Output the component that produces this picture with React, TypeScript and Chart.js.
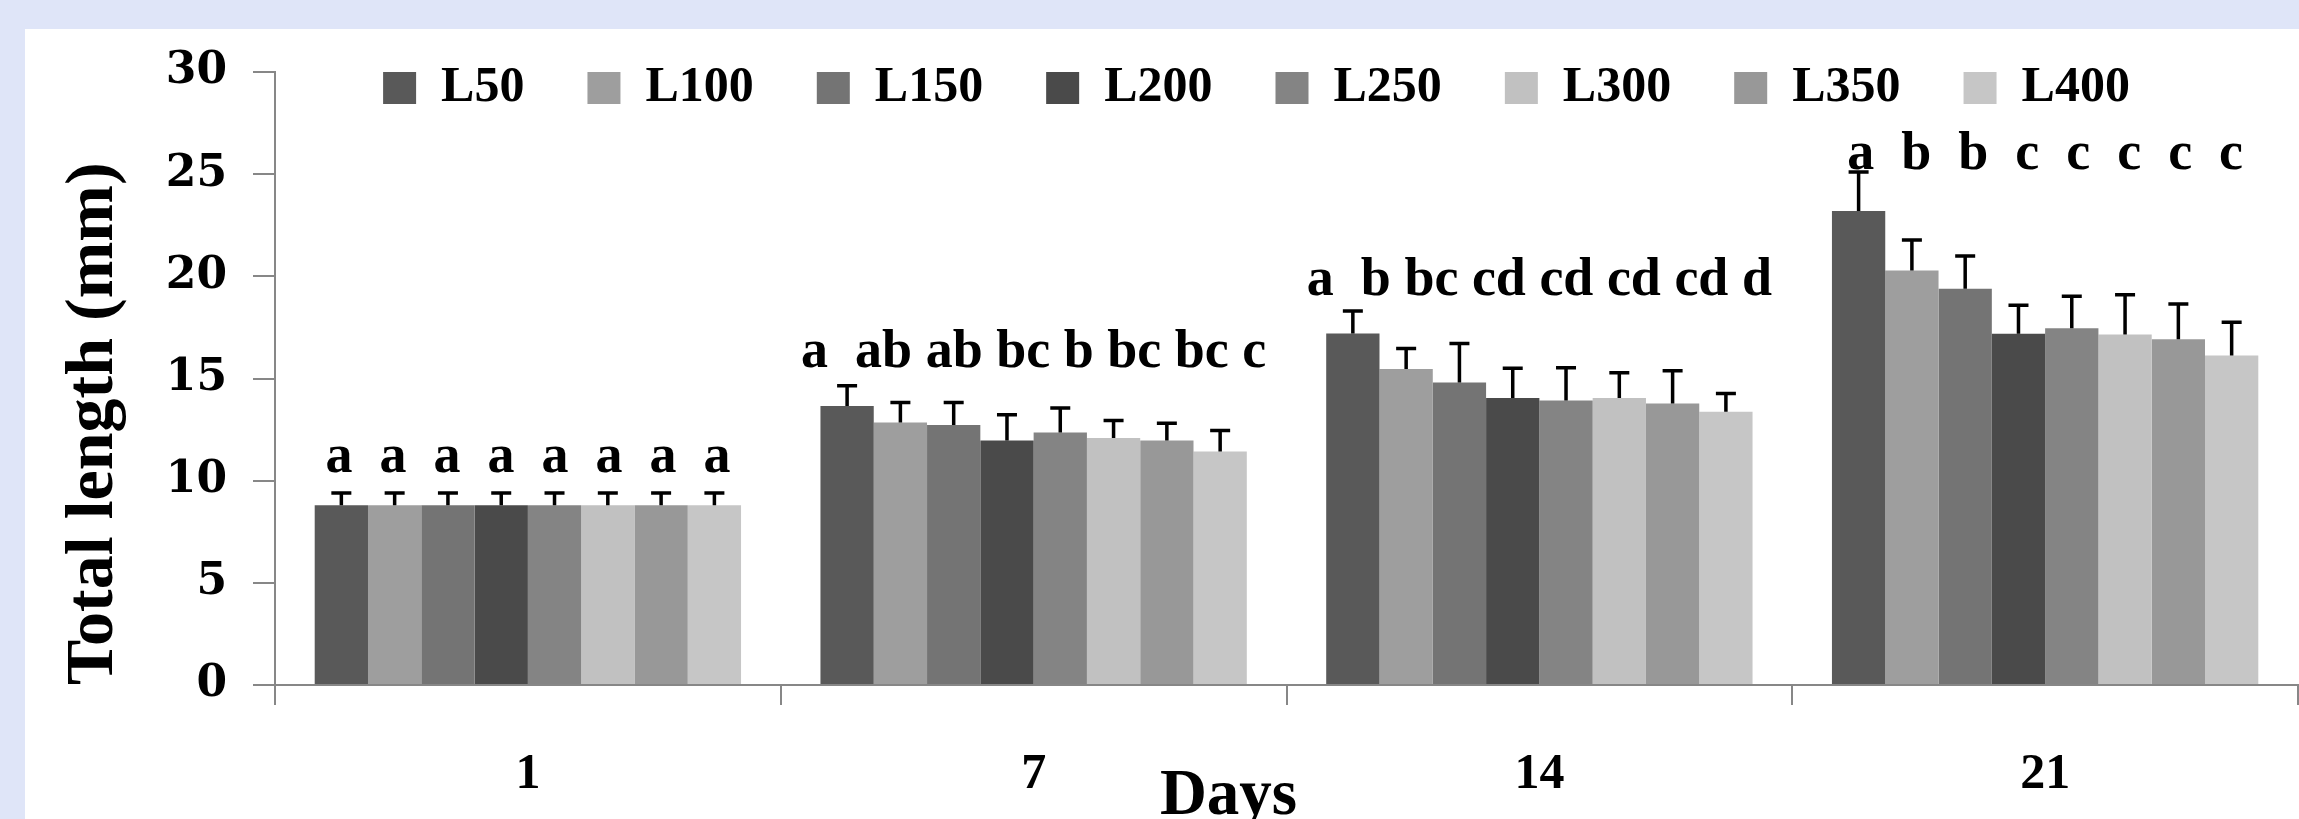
import React, { useEffect, useRef } from 'react';
import { Chart, registerables } from 'chart.js';

Chart.register(...registerables);

// ---- data ----
const DAYS = ['1', '7', '14', '21'];
const SERIES = ['L50', 'L100', 'L150', 'L200', 'L250', 'L300', 'L350', 'L400'];

const L50 = [8.8, 13.66, 17.2, 23.2];
const L100 = [8.8, 12.85, 15.47, 20.28];
const L150 = [8.8, 12.73, 14.81, 19.39];
const L200 = [8.8, 11.97, 14.05, 17.19];
const L250 = [8.8, 12.36, 13.92, 17.46];
const L300 = [8.8, 12.09, 14.05, 17.15];
const L350 = [8.8, 11.97, 13.78, 16.92];
const L400 = [8.8, 11.43, 13.37, 16.13];

const L50_SD = [0.6, 0.98, 1.1, 1.9];
const L100_SD = [0.6, 0.98, 1.0, 1.5];
const L150_SD = [0.6, 1.1, 1.9, 1.6];
const L200_SD = [0.6, 1.25, 1.45, 1.4];
const L250_SD = [0.6, 1.2, 1.6, 1.57];
const L300_SD = [0.6, 0.86, 1.23, 1.95];
const L350_SD = [0.6, 0.84, 1.6, 1.73];
const L400_SD = [0.6, 1.02, 0.9, 1.62];

const VALUES = [L50, L100, L150, L200, L250, L300, L350, L400];
const ERRORS = [L50_SD, L100_SD, L150_SD, L200_SD, L250_SD, L300_SD, L350_SD, L400_SD];

const COLORS = ['#595959', '#9e9e9e', '#747474', '#4a4a4a', '#848484', '#c1c1c1', '#989898', '#c6c6c6'];

// significance letters, one text row per day (as typed in the original)
const LETTER_ROWS = [
  'a  a  a  a  a  a  a  a',
  'a  ab ab bc b bc bc c',
  'a  b bc cd cd cd cd d',
  'a  b  b  c  c  c  c  c',
];
const LETTER_LEVELS = [10.4, 15.55, 19.1, 25.27];

const Y_MIN = 0;
const Y_MAX = 30;
const Y_STEP = 5;

const SERIF = "'Liberation Serif', 'Times New Roman', serif";
const DJV = "'DejaVu Serif', serif";
const AXIS = '#878787';

const LEGEND_BAND = 72;
const LEGEND_SHIFT = 30;
const DAYS_SHIFT = -58;

function patchLegend(chart: any) {
  const lg = chart.legend;
  if (!lg || lg.__patched) return;
  const orig = lg.fit;
  lg.fit = function () {
    orig.call(this);
    this.height = LEGEND_BAND;
    if (this.lineWidths) this.lineWidths = this.lineWidths.map((w: number) => w + LEGEND_SHIFT * 2);
  };
  lg.__patched = true;
}

const legendOverlay = {
  id: 'legendOverlay',
  beforeInit(chart: any) { patchLegend(chart); },
  beforeUpdate(chart: any) { patchLegend(chart); },
  afterLayout(chart: any) {
    const lg = chart.legend;
    if (lg) {
      lg.bottom = lg.top + 200;
      lg.height = 200;
    }
  },
};

const annotations = {
  id: 'annotations',
  afterDatasetsDraw(chart: any) {
    const ctx = chart.ctx;
    const ys = chart.scales.y;
    const xs = chart.scales.x;
    ctx.save();
    ctx.strokeStyle = '#000';
    ctx.lineWidth = 3.5;
    const cap = 20;
    VALUES.forEach((vals, i) => {
      const meta = chart.getDatasetMeta(i);
      meta.data.forEach((bar: any, j: number) => {
        const v = vals[j];
        const e = ERRORS[i][j];
        const yb = ys.getPixelForValue(v);
        const yt = ys.getPixelForValue(v + e);
        ctx.beginPath();
        ctx.moveTo(bar.x, yb);
        ctx.lineTo(bar.x, yt);
        ctx.moveTo(bar.x - cap / 2, yt);
        ctx.lineTo(bar.x + cap / 2, yt);
        ctx.stroke();
      });
    });
    ctx.fillStyle = '#000';
    ctx.font = `bold 54px ${SERIF}`;
    ctx.textAlign = 'center';
    ctx.textBaseline = 'alphabetic';
    LETTER_ROWS.forEach((row, j) => {
      ctx.fillText(row, xs.getPixelForValue(j), ys.getPixelForValue(LETTER_LEVELS[j]));
    });
    ctx.restore();
  },
  afterDraw(chart: any) {
    const ctx = chart.ctx;
    const { left, right } = chart.chartArea;
    ctx.save();
    ctx.fillStyle = '#000';
    ctx.font = `bold 65px ${SERIF}`;
    ctx.textAlign = 'center';
    ctx.textBaseline = 'alphabetic';
    ctx.fillText('Days', (left + right) / 2 + DAYS_SHIFT, chart.height - 5);
    ctx.restore();
  },
};

export default function App() {
  const ref = useRef<HTMLCanvasElement | null>(null);
  useEffect(() => {
    if (!ref.current) return;
    const chart = new Chart(ref.current, {
      type: 'bar',
      data: {
        labels: DAYS,
        datasets: SERIES.map((name, i) => ({
          label: name,
          data: VALUES[i],
          backgroundColor: COLORS[i],
          borderWidth: 0,
          categoryPercentage: 0.843,
          barPercentage: 1,
        })),
      },
      options: {
        responsive: false,
        devicePixelRatio: 1,
        animation: false,
        events: [],
        layout: { padding: { left: 0, right: 1, top: 0, bottom: 14 } },
        plugins: {
          legend: {
            display: true,
            position: 'top',
            fullSize: false,
            labels: {
              boxWidth: 33,
              boxHeight: 32,
              padding: 63,
              color: '#000',
              font: { family: SERIF, size: 50, weight: 'bold' },
            },
          },
          tooltip: { enabled: false },
          title: { display: false },
        },
        scales: {
          x: {
            type: 'category',
            offset: true,
            grid: { offset: true, drawOnChartArea: false, tickLength: 20, color: AXIS, lineWidth: 2 },
            border: { color: AXIS, width: 2 },
            ticks: {
              padding: 40,
              color: '#000',
              maxRotation: 0,
              autoSkip: false,
              font: { family: SERIF, size: 50, weight: 'bold' },
            },
            afterFit: (s: any) => { s.height = 120; },
          },
          y: {
            min: Y_MIN,
            max: Y_MAX,
            ticks: {
              stepSize: Y_STEP,
              padding: 26,
              color: '#000',
              font: { family: DJV, size: 44, weight: 'bold' },
            },
            grid: { drawOnChartArea: false, tickLength: 22, color: AXIS, lineWidth: 2 },
            border: { color: AXIS, width: 2 },
            title: {
              display: true,
              text: 'Total length (mm)',
              align: 'start',
              color: '#000',
              font: { family: SERIF, size: 68, weight: 'bold' },
              padding: { top: 54, bottom: 0 },
            },
            afterFit: (s: any) => { s.width = 275; },
          },
        },
      } as any,
      plugins: [legendOverlay, annotations],
    });
    return () => chart.destroy();
  }, []);

  return (
    <div style={{ position: 'fixed', left: 0, top: 0, width: 2299, height: 819, background: '#dfe5f8', overflow: 'hidden' }}>
      <div style={{ position: 'absolute', left: 25, top: 29, right: 0, bottom: 0, background: '#ffffff' }} />
      <canvas ref={ref} width={2299} height={819} style={{ position: 'absolute', left: 0, top: 0 }} />
    </div>
  );
}
